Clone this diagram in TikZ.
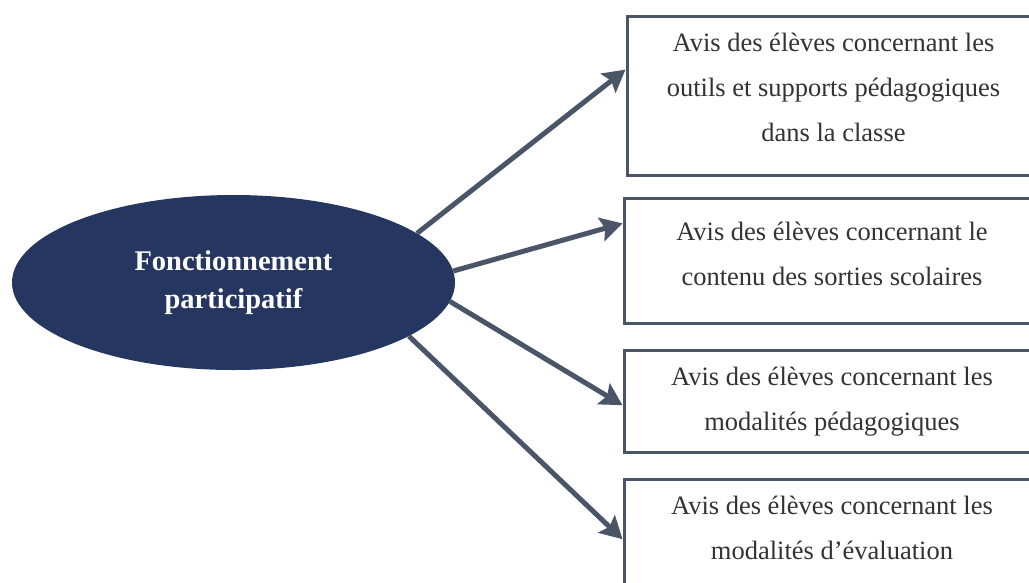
\documentclass[tikz,border=0pt]{standalone}
\usepackage{fontspec}
\setmainfont{Liberation Serif}
\usetikzlibrary{arrows.meta,shapes.geometric,calc}
\definecolor{navy}{HTML}{253660}
\definecolor{slate}{HTML}{4A5568}
\definecolor{txt}{HTML}{333333}
\tikzset{
  centre/.style={ellipse, fill=navy, draw=none, minimum width=443pt, minimum height=175pt,
    inner sep=0pt, text=white, align=center, font=\fontsize{28.5}{38}\selectfont\bfseries},
  avisbox/.style={draw=slate, line width=3pt, fill=white, rectangle, inner sep=0pt,
    align=center, text=txt, font=\fontsize{26.5}{45}\selectfont},
  link/.style={draw=slate, line width=5pt, -{Stealth[length=22pt,width=24pt,inset=4pt]}}
}
\begin{document}
\begin{tikzpicture}[x=1pt,y=-1pt]
\useasboundingbox (0,0) rectangle (1029,582);
\clip (0,0) rectangle (1029,582);
\fill[white] (0,0) rectangle (1029,582);
\node[centre] (e) at (233.5,282.5) {Fonctionnement\\participatif};
\node[avisbox, minimum width=413pt, minimum height=159pt, text depth=17pt] (b1) at (833.5,95.5)
  {Avis des élèves concernant les\\outils et supports pédagogiques\\dans la classe};
\node[avisbox, minimum width=416pt, minimum height=125pt, text depth=14pt] (b2) at (832,260.5)
  {Avis des élèves concernant le\\contenu des sorties scolaires};
\node[avisbox, minimum width=416pt, minimum height=102pt, text depth=4pt] (b3) at (832,401)
  {Avis des élèves concernant les\\modalités pédagogiques};
\node[avisbox, minimum width=416pt, minimum height=130pt, text depth=34pt, anchor=north] (b4) at (832,478)
  {Avis des élèves concernant les\\modalités d’évaluation};
\coordinate (t1) at ($(b1.north west)!0.34!(b1.south west)$);
\coordinate (t2) at ($(b2.north west)!0.21!(b2.south west)$);
\coordinate (t3) at ($(b3.north west)!0.54!(b3.south west)$);
\coordinate (t4) at ($(b4.north west)!0.46!(b4.south west)$);
\draw[link] (e.15) -- (t1);
\draw[link] (e.3) -- (t2);
\draw[link] (e.-5.5) -- (t3);
\draw[link] (e.-17.5) -- (t4);
\end{tikzpicture}
\end{document}
